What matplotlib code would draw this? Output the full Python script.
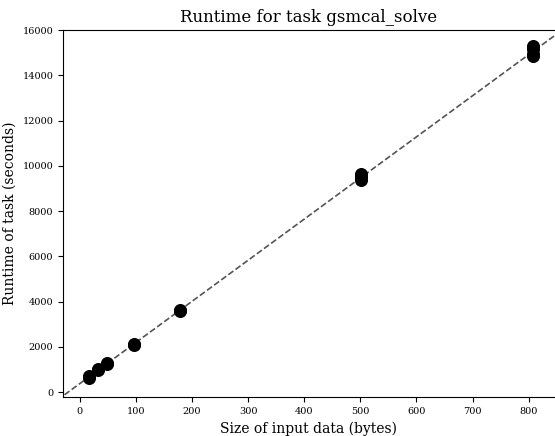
import numpy as np
import matplotlib.pyplot as plt

plt.rcParams['font.family'] = 'DejaVu Serif'

# input size (bytes) and measured runtime (seconds)
size = [16, 16, 33, 33, 49, 49, 96, 96, 178, 178,
        502, 502, 502, 808, 808, 808, 808]
runtime = [640, 690, 980, 1010, 1240, 1280, 2090, 2130, 3580, 3620,
           9380, 9500, 9620, 14850, 14950, 15150, 15280]

x = np.array(size)
y = np.array(runtime)
b, a = np.polyfit(x, y, 1)

fig = plt.figure(figsize=(5.55, 4.36), dpi=100)
ax = fig.add_axes([0.1135, 0.0894, 0.8865, 0.8417])

ax.scatter(x, y, s=70, color='black', zorder=3)
xx = np.array([-40, 900])
ax.plot(xx, a + b*xx, '--', color='#555555', lw=1.2, zorder=2)

ax.set_xlim(-30, 847)
ax.set_ylim(-220, 16000)
ax.set_xticks(range(0, 801, 100))
ax.set_yticks(range(0, 16001, 2000))
ax.tick_params(labelsize=7)
ax.spines['right'].set_visible(False)

ax.set_title('Runtime for task gsmcal_solve', fontsize=12)
ax.set_xlabel('Size of input data (bytes)', fontsize=10)
ax.set_ylabel('Runtime of task (seconds)', fontsize=10)

fig.savefig('out.png', dpi=100)
